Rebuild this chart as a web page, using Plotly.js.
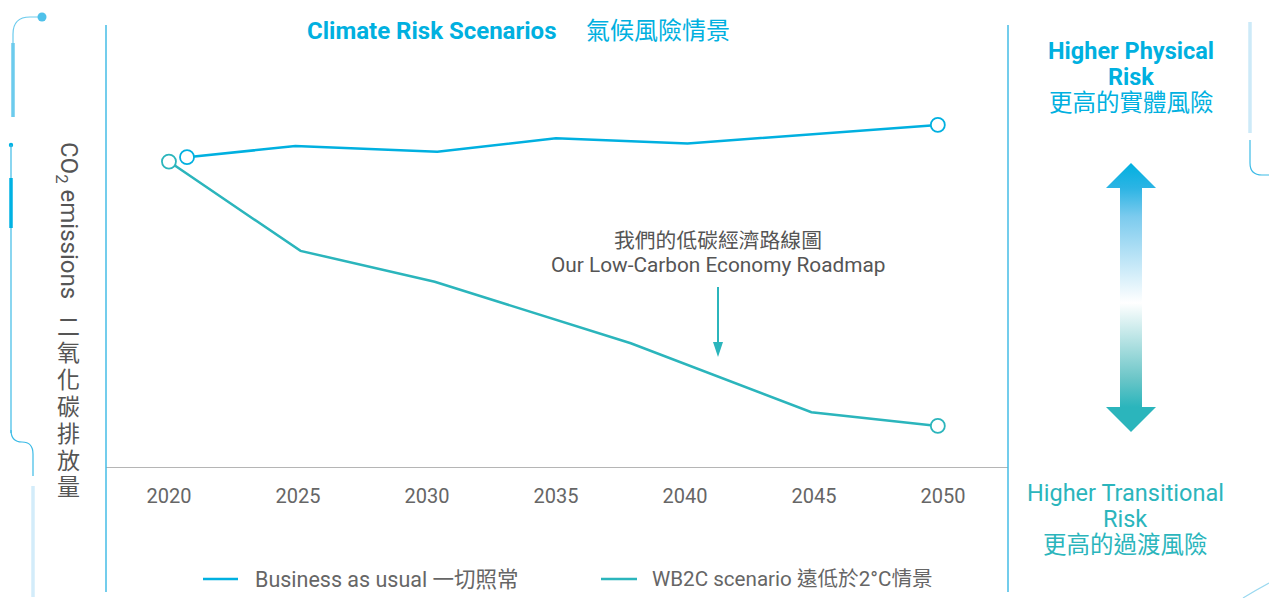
<!DOCTYPE html>
<html>
<head>
<meta charset="utf-8">
<script src="https://cdn.plot.ly/plotly-3.0.1.min.js"></script>
<style>html,body{margin:0;padding:0;background:#fff;}#chart{width:1269px;height:598px;}</style>
</head>
<body>
<div id="chart"></div>
<script>
// ---- data ----
const bauName = "Business as usual 一切照常";
const bauYears = [2020.7, 2024.9, 2030.4, 2035.0, 2040.1, 2049.8];
const bauValues = [70.1, 72.6, 71.3, 74.4, 73.2, 77.4];

const wb2cName = "WB2C scenario 遠低於2°C情景";
const wb2cYears = [2020.0, 2025.1, 2030.3, 2037.9, 2044.9, 2049.8];
const wb2cValues = [69.1, 48.9, 41.9, 28.0, 12.4, 9.3];

const tickYears = [2020, 2025, 2030, 2035, 2040, 2045, 2050];
const tickLabels = ["2020", "2025", "2030", "2035", "2040", "2045", "2050"];

const titleEn = "Climate Risk Scenarios";
const titleZh = "氣候風險情景";
const yLabelEn = "CO<sub>2</sub> emissions";
const yLabelZh = ["二", "氧", "化", "碳", "排", "放", "量"];
const physLines = ["<b>Higher Physical</b>", "<b>Risk</b>", "更高的實體風險"];
const transLines = ["Higher Transitional", "Risk", "更高的過渡風險"];
const roadmapLines = ["我們的低碳經濟路線圖", "Our Low-Carbon Economy Roadmap"];

// ---- styles ----
const BLUE = "#00b0e0";
const TEAL = "#2bb5bc";
const GREY = "#555555";
const FONT = "Roboto, 'Noto Sans CJK TC', sans-serif";
const W = 1269, H = 598;

function ends(a){ return [a[0], a[a.length-1]]; }

const traces = [
  {x: bauYears, y: bauValues, name: bauName, mode: "lines", type: "scatter", showlegend: false,
   line: {color: BLUE, width: 2.5}, xaxis: "x", yaxis: "y"},
  {x: wb2cYears, y: wb2cValues, name: wb2cName, mode: "lines", type: "scatter", showlegend: false,
   line: {color: TEAL, width: 2.5}, xaxis: "x", yaxis: "y"},
  {x: ends(bauYears), y: ends(bauValues), mode: "markers", type: "scatter", showlegend: false,
   marker: {symbol: "circle", size: 14, color: "#ffffff", line: {color: BLUE, width: 1.8}}, xaxis: "x", yaxis: "y"},
  {x: ends(wb2cYears), y: ends(wb2cValues), mode: "markers", type: "scatter", showlegend: false,
   marker: {symbol: "circle", size: 14, color: "#ffffff", line: {color: TEAL, width: 1.8}}, xaxis: "x", yaxis: "y"},
  // decorative double arrow (pixel overlay)
  {x: [1131,1156,1142,1142,1156,1131,1106,1120,1120,1106,1131],
   y: [163,188,188,407,407,432,407,407,188,188,163],
   mode: "lines", type: "scatter", fill: "toself", showlegend: false, hoverinfo: "skip",
   line: {width: 0, color: "rgba(0,0,0,0)"},
   fillgradient: {type: "vertical",
     colorscale: [[0, TEAL],[0.093, TEAL],[0.2, "#6cc6c8"],[0.48, "#ffffff"],[0.8, "#7ccbee"],[0.907, "#2cb4e4"],[1, BLUE]]},
   xaxis: "x2", yaxis: "y2"}
];

const shapes = [];
function ln(x0,y0,x1,y1,color,width){ shapes.push({type:"line",xref:"x2",yref:"y2",x0:x0,y0:y0,x1:x1,y1:y1,line:{color:color,width:width}}); }
function pth(p,color,width){ shapes.push({type:"path",xref:"x2",yref:"y2",path:p,line:{color:color,width:width}}); }
function dot(x,y,r,color){ shapes.push({type:"circle",xref:"x2",yref:"y2",x0:x-r,x1:x+r,y0:y-r,y1:y+r,fillcolor:color,line:{width:0}}); }

// frame lines
ln(106,25,106,592,"#45bde6",1.5);
ln(1008,25,1008,592,"#45bde6",1.5);
// left decorations
pth("M42,17 L30,17 Q13,17 13,34 L13,117","#6ccbed",1.2);
ln(13,43,13,117,"#6ccbed",3.5);
dot(42,17,4.5,"#4fc1ea");
dot(11,145,2.2,"#00b2e3");
ln(11,145,11,433,"#3dbbe6",1.2);
ln(11,178,11,228,"#00b2e3",3.5);
pth("M11,430 Q11,442 22,442 Q33,442 33,454 L33,476","#3dbbe6",1.2);
ln(33,486,33,597,"#d3ecfa",3.5);
// right decorations
ln(1250,22,1250,133,"#cdeaf8",3.5);
pth("M1250,140 L1250,163 Q1250,175 1262,175 L1269,175","#3dbbe6",1.2);
pth("M1243,598 Q1256,590 1269,583","#9bd9f0",1.2);
// roadmap arrow
ln(718,287,718,345,TEAL,2);
shapes.push({type:"path",xref:"x2",yref:"y2",path:"M713,342 L723,342 L718,357 Z",fillcolor:TEAL,line:{width:0}});
// legend line samples
ln(203,579,238,579,BLUE,2.5);
ln(601,579,637,579,TEAL,2.5);

const annotations = [];
function txt(x, y, text, size, color, anchor, angle){
  annotations.push({xref:"x2",yref:"y2",x:x,y:y,xanchor:anchor||"center",yanchor:"middle",showarrow:false,
    textangle:angle||0,text:text,font:{family:FONT,size:size,color:color}});
}
txt(305, 31, "<b>" + titleEn + "</b>", 24, BLUE, "left");
txt(584, 31, titleZh, 24, BLUE, "left");
txt(68, 220, yLabelEn, 24, GREY, "center", 90);
yLabelZh.forEach((c, i) => txt(68, 327 + i*26.8, c, 23, GREY));
const physY = [51, 77, 103];
physLines.forEach((t, i) => txt(1131, physY[i], t, 23.5, BLUE));
const transY = [493, 519, 545];
transLines.forEach((t, i) => txt(1125, transY[i], t, 23.5, TEAL));
const roadY = [241, 265];
roadmapLines.forEach((t, i) => txt(718, roadY[i], t, 20.8, GREY));
// legend texts
txt(253, 579, bauName, 21.5, "#666666", "left");
txt(650, 579, wb2cName, 20.6, "#666666", "left");

const layout = {
  width: W, height: H,
  margin: {l:0,r:0,t:0,b:0,pad:0},
  paper_bgcolor: "#ffffff", plot_bgcolor: "rgba(0,0,0,0)",
  font: {family: FONT, color: "#666666"},
  showlegend: false,
  xaxis: {domain: [106/W, 1008/W], range: [2017.56, 2052.52], anchor: "y",
          showgrid: false, zeroline: false, showline: true, linecolor: "#b5b5b5", linewidth: 1,
          tickmode: "array", tickvals: tickYears, ticktext: tickLabels, ticks: "",
          ticklabelstandoff: 11, tickfont: {family: FONT, size: 20, color: "#666666"}, fixedrange: true},
  yaxis: {domain: [131/H, 573/H], range: [0, 100], anchor: "x", visible: false, fixedrange: true},
  xaxis2: {domain: [0,1], range: [0, W], anchor: "y2", visible: false, fixedrange: true},
  yaxis2: {domain: [0,1], range: [H, 0], anchor: "x2", visible: false, fixedrange: true},
  shapes: shapes,
  annotations: annotations
};

Plotly.newPlot("chart", traces, layout, {displayModeBar: false, staticPlot: true});
</script>
</body>
</html>
